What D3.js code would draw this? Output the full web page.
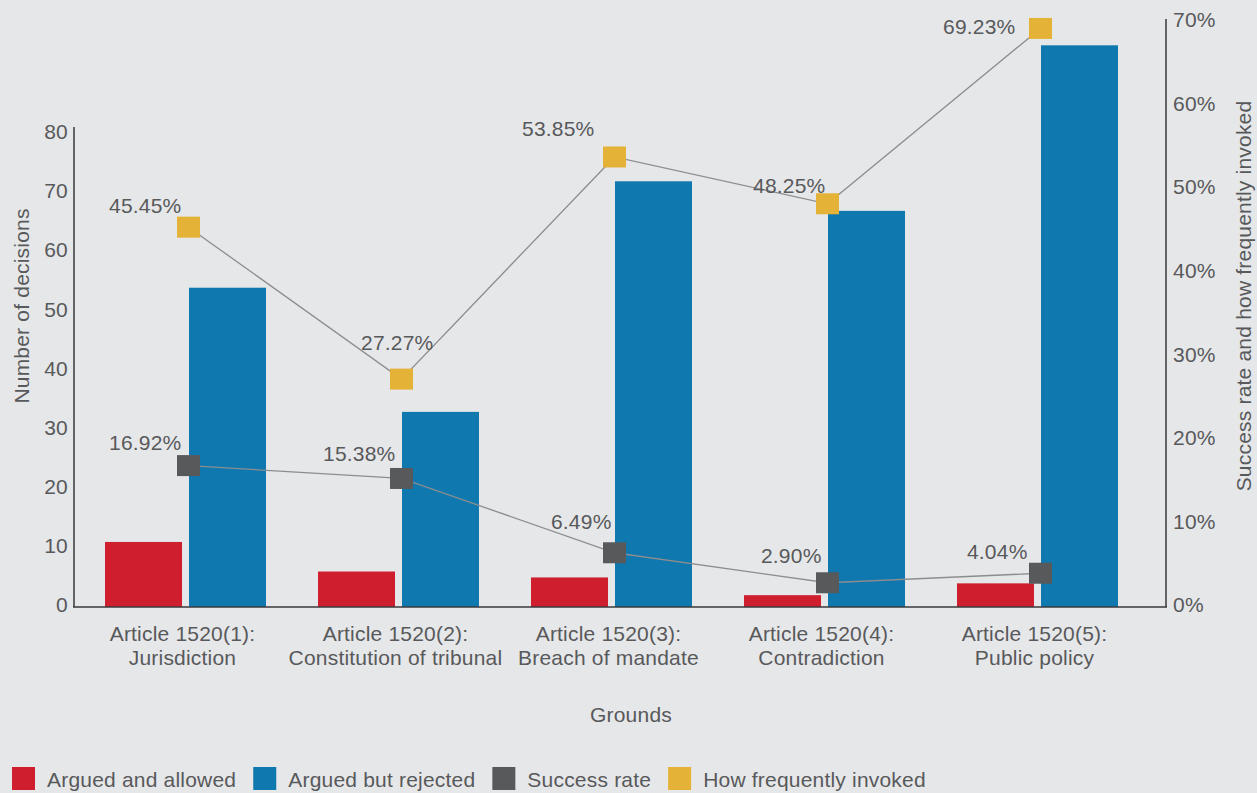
<!DOCTYPE html>
<html>
<head>
<meta charset="utf-8">
<script src="https://cdn.jsdelivr.net/npm/d3@7"></script>
<style>
  html, body { margin: 0; padding: 0; background: #e6e7e9; }
  svg { display: block; font-family: "Liberation Sans", Arial, Helvetica, sans-serif; letter-spacing: 0.2px; }
</style>
</head>
<body>
<svg id="chart" width="1257" height="793"></svg>
<script>
// ---- Data ----
const categories = [
  ["Article 1520(1):", "Jurisdiction"],
  ["Article 1520(2):", "Constitution of tribunal"],
  ["Article 1520(3):", "Breach of mandate"],
  ["Article 1520(4):", "Contradiction"],
  ["Article 1520(5):", "Public policy"]
];
const arguedAllowed = [11, 6, 5, 2, 4];
const arguedRejected = [54, 33, 72, 67, 95];
const successRate = [16.92, 15.38, 6.49, 2.90, 4.04];
const frequencyInvoked = [45.45, 27.27, 53.85, 48.25, 69.23];
const leftTicks = [0, 10, 20, 30, 40, 50, 60, 70, 80];
const rightTicks = [0, 10, 20, 30, 40, 50, 60, 70];
const seriesNames = ["Argued and allowed", "Argued but rejected", "Success rate", "How frequently invoked"];

// ---- Styles / layout ----
const colors = ["#cf1f2e", "#0f78ae", "#58595b", "#e3b236"];
const textColor = "#58595b";
const axisColor = "#3a3a3b";
const fontSize = 21;
// label placement relative to marker centre [dx of text end, dy of baseline]
const freqLabelOffsets = [[-7, -14], [32, -29], [-20, -21], [-2, -11], [-25, 6]];
const succLabelOffsets = [[-7, -16], [-6, -17], [-3, -24], [-6, -20], [-13, -14]];

const svg = d3.select("#chart");
const catKeys = categories.map(c => c.join(" "));

const x = d3.scaleBand().domain(catKeys).range([79, 1144]).padding(0);
const xSub = d3.scaleBand().domain(["allowed", "rejected"]).range([0, x.bandwidth()])
  .paddingInner(7 / 84).paddingOuter(0.3095);
const yL = d3.scaleLinear().domain([0, 80]).range([607, 134]);
const yR = d3.scaleLinear().domain([0, 70]).range([607, 22]);

// Bars
const barSeries = [
  { key: "allowed", values: arguedAllowed, color: colors[0] },
  { key: "rejected", values: arguedRejected, color: colors[1] }
];
barSeries.forEach(s => {
  svg.append("g").selectAll("rect").data(s.values).join("rect")
    .attr("x", (d, i) => x(catKeys[i]) + xSub(s.key))
    .attr("width", xSub.bandwidth())
    .attr("y", d => yL(d))
    .attr("height", d => yL(0) - yL(d))
    .attr("fill", s.color);
});

// Axes lines
svg.append("line").attr("x1", 74).attr("x2", 74).attr("y1", 127).attr("y2", 607.5)
  .attr("stroke", axisColor).attr("stroke-width", 1.5);
svg.append("line").attr("x1", 1166).attr("x2", 1166).attr("y1", 19).attr("y2", 607.5)
  .attr("stroke", axisColor).attr("stroke-width", 1.5);
svg.append("line").attr("x1", 73.25).attr("x2", 1166.75).attr("y1", 607).attr("y2", 607)
  .attr("stroke", axisColor).attr("stroke-width", 1.5);

// Left axis labels
const axL = svg.append("g").attr("transform", "translate(68,-2)")
  .call(d3.axisLeft(yL).tickValues(leftTicks).tickSize(0).tickPadding(0));
axL.select(".domain").remove();
axL.selectAll("text").attr("fill", textColor).attr("font-size", fontSize)
  .attr("font-family", "Liberation Sans, Arial, sans-serif");

// Right axis labels
const axR = svg.append("g").attr("transform", "translate(1173,-2)")
  .call(d3.axisRight(yR).tickValues(rightTicks).tickSize(0).tickPadding(0).tickFormat(d => d + "%"));
axR.select(".domain").remove();
axR.selectAll("text").attr("fill", textColor).attr("font-size", fontSize)
  .attr("font-family", "Liberation Sans, Arial, sans-serif");

// Category labels
const catG = svg.append("g");
categories.forEach((c, i) => {
  const cx = x(catKeys[i]) + x.bandwidth() / 2 - 3;
  const t = catG.append("text").attr("text-anchor", "middle").attr("fill", textColor)
    .attr("font-size", fontSize);
  t.append("tspan").attr("x", cx).attr("y", 641).text(c[0]);
  t.append("tspan").attr("x", cx).attr("y", 665).text(c[1]);
});

// Axis titles
svg.append("text").attr("x", 631).attr("y", 722).attr("text-anchor", "middle")
  .attr("fill", textColor).attr("font-size", fontSize).text("Grounds");
svg.append("text").attr("transform", "translate(29,306) rotate(-90)").attr("text-anchor", "middle")
  .attr("fill", textColor).attr("font-size", fontSize).text("Number of decisions");
svg.append("text").attr("transform", "translate(1251,296) rotate(-90)").attr("text-anchor", "middle")
  .attr("fill", textColor).attr("font-size", fontSize).text("Success rate and how frequently invoked");

// Lines + markers
const mx = i => x(catKeys[i]) + x.bandwidth() / 2 + 3;
const lineGen = d3.line().x((d, i) => mx(i)).y(d => yR(d));
const lineSeries = [
  { values: successRate, color: colors[2], offsets: succLabelOffsets },
  { values: frequencyInvoked, color: colors[3], offsets: freqLabelOffsets }
];
lineSeries.forEach(s => {
  svg.append("path").datum(s.values).attr("d", lineGen)
    .attr("fill", "none").attr("stroke", "#8c8d8f").attr("stroke-width", 1.3);
});
lineSeries.forEach(s => {
  const g = svg.append("g");
  g.selectAll("rect").data(s.values).join("rect")
    .attr("x", (d, i) => mx(i) - 11.5).attr("y", d => yR(d) - 10.5)
    .attr("width", 23).attr("height", 21).attr("fill", s.color);
  g.selectAll("text").data(s.values).join("text")
    .attr("x", (d, i) => mx(i) + s.offsets[i][0])
    .attr("y", (d, i) => yR(d) + s.offsets[i][1])
    .attr("text-anchor", "end").attr("fill", textColor).attr("font-size", fontSize)
    .text(d => d.toFixed(2) + "%");
});

// Legend
const leg = svg.append("g");
let lx = 12;
seriesNames.forEach((name, i) => {
  leg.append("rect").attr("x", lx).attr("y", 767).attr("width", 23).attr("height", 23).attr("fill", colors[i]);
  const t = leg.append("text").attr("x", lx + 35).attr("y", 787).attr("fill", textColor)
    .attr("font-size", fontSize).text(name);
  lx = lx + 35 + t.node().getComputedTextLength() + 17;
});
</script>
</body>
</html>
